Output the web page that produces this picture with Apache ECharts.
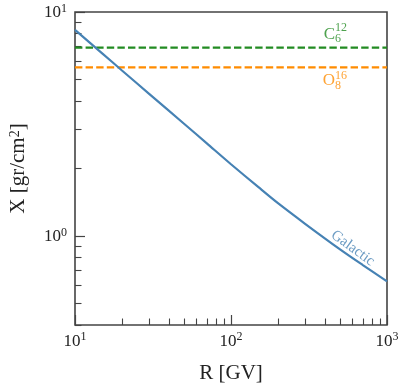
<!DOCTYPE html>
<html><head><meta charset="utf-8">
<script src="https://cdn.jsdelivr.net/npm/echarts@6/dist/echarts.min.js"></script>
<style>html,body{margin:0;padding:0;background:#fff}#c{width:407px;height:390px}</style>
</head><body><div id="c"></div>
<script>
// ---- data ----
const rigidity = [10, 15, 20, 30, 50, 70, 100, 150, 200, 300, 500, 700, 1000];
const galactic = [8.32, 6.52, 5.48, 4.30, 3.17, 2.59, 2.09, 1.65, 1.40, 1.13, 0.871, 0.741, 0.627];
const carbonX = 6.93;
const oxygenX = 5.66;
const xMajorTicks = [10, 100, 1000];
const xMinorTicks = [20, 30, 40, 50, 60, 70, 80, 90, 200, 300, 400, 500, 600, 700, 800, 900];
const yMajorTicks = [1, 10];
const yMinorTicks = [0.4, 0.5, 0.6, 0.7, 0.8, 0.9, 2, 3, 4, 5, 6, 7, 8, 9];

const FONT = 'Liberation Serif';
const AX = '#444';
const BLUE = '#4682B4', GREEN = '#228B22', ORANGE = '#FF8C00';

const powFmt = v => '{b|10}{s|' + Math.round(Math.log10(v)) + '}';
const powRich = {
  b: {fontFamily: FONT, fontSize: 17, color: '#222', lineHeight: 19, verticalAlign: 'bottom'},
  s: {fontFamily: FONT, fontSize: 12, color: '#222', lineHeight: 12, verticalAlign: 'top'}
};

const xBase = {type: 'log', min: 10, max: 1000, logBase: 10, position: 'bottom', splitLine: {show: false}, axisLine: {show: false}};
const yBase = {type: 'log', min: 0.4, max: 10, logBase: 10, position: 'left', splitLine: {show: false}, axisLine: {show: false}};

const lines = rigidity.map((r, i) => [r, galactic[i]]);
const span = [rigidity[0], rigidity[rigidity.length - 1]];

const annot = (pt, text, color, size, opts) => ({
  value: pt,
  label: Object.assign({show: true, formatter: text, color: color, fontFamily: FONT, fontSize: size}, opts)
});

const option = {
  animation: false,
  grid: {left: 75, right: 20, top: 12, bottom: 65, show: true, borderColor: AX, borderWidth: 1.6, backgroundColor: 'transparent'},
  xAxis: [
    Object.assign({}, xBase, {
      name: 'R [GV]', nameLocation: 'middle', nameGap: 38,
      nameTextStyle: {fontFamily: FONT, fontSize: 21, color: '#222'},
      axisTick: {show: true, inside: true, length: 10, customValues: xMajorTicks, lineStyle: {color: AX, width: 1.2}},
      axisLabel: {show: true, customValues: xMajorTicks, margin: 6, formatter: powFmt, rich: powRich}
    }),
    Object.assign({}, xBase, {
      axisTick: {show: true, inside: true, length: 6.5, customValues: xMinorTicks, lineStyle: {color: AX, width: 1.1}},
      axisLabel: {show: false}
    })
  ],
  yAxis: [
    Object.assign({}, yBase, {
      name: 'X [gr/cm{s|2}]', nameLocation: 'middle', nameGap: 46,
      nameTextStyle: {fontFamily: FONT, fontSize: 21, color: '#222',
        rich: {s: {fontFamily: FONT, fontSize: 14, color: '#222', verticalAlign: 'top', lineHeight: 14}}},
      axisTick: {show: true, inside: true, length: 10, customValues: yMajorTicks, lineStyle: {color: AX, width: 1.2}},
      axisLabel: {show: true, customValues: yMajorTicks, margin: 8, formatter: powFmt, rich: powRich}
    }),
    Object.assign({}, yBase, {
      axisTick: {show: true, inside: true, length: 6.5, customValues: yMinorTicks, lineStyle: {color: AX, width: 1.1}},
      axisLabel: {show: false}
    })
  ],
  series: [
    {type: 'line', name: 'C12', data: span.map(r => [r, carbonX]), showSymbol: false, silent: true,
     lineStyle: {color: GREEN, width: 2.2, type: [7.4, 3.2]}, z: 3},
    {type: 'line', name: 'O16', data: span.map(r => [r, oxygenX]), showSymbol: false, silent: true,
     lineStyle: {color: ORANGE, width: 2.2, type: [7.4, 3.2]}, z: 3},
    {type: 'line', name: 'Galactic', data: lines, smooth: 0.3, showSymbol: false, silent: true,
     lineStyle: {color: BLUE, width: 2.2}, z: 4},
    {type: 'scatter', symbolSize: 0, silent: true, z: 5,
     data: [
       annot([604, 0.881], 'Galactic', BLUE, 15, {position: 'inside', rotate: -36}),
       annot([464, 7.96], 'C', GREEN, 17, {position: 'left', distance: 0}),
       annot([464, 7.96], '12', GREEN, 12, {position: 'right', distance: 0, offset: [0, -6]}),
       annot([464, 7.96], '6', GREEN, 12, {position: 'right', distance: 0, offset: [0, 4.5]}),
       annot([464, 4.93], 'O', ORANGE, 17, {position: 'left', distance: 0}),
       annot([464, 4.93], '16', ORANGE, 12, {position: 'right', distance: 0, offset: [0, -5]}),
       annot([464, 4.93], '8', ORANGE, 12, {position: 'right', distance: 0, offset: [0, 5]})
     ]}
  ]
};
echarts.init(document.getElementById('c')).setOption(option);
</script></body></html>
